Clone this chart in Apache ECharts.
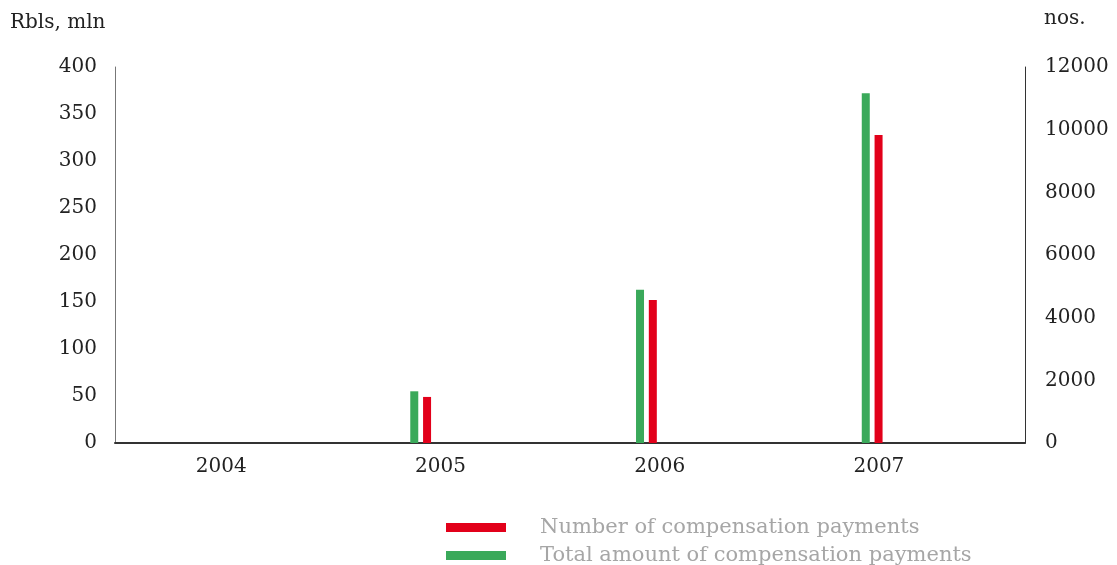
<!DOCTYPE html>
<html>
<head>
<meta charset="utf-8">
<script src="https://cdn.jsdelivr.net/npm/echarts@6/dist/echarts.min.js"></script>
<style>
  html, body { margin: 0; padding: 0; background: #fff; }
  #chart { width: 1117px; height: 565px; }
</style>
</head>
<body>
<div id="chart"></div>
<script>
// years on the x axis
var years = [2004, 2005, 2006, 2007];
// total amount of compensation payments, Rbls mln (left axis)
var totalAmount = [null, 55, 163, 372];
// number of compensation payments, nos. (right axis)
var paymentsCount = [null, 1470, 4560, 9830];

var leftTicks = { min: 0, max: 400, interval: 50 };
var rightTicks = { min: 0, max: 12000, interval: 2000 };

var serif = '"DejaVu Serif", "Liberation Serif", serif';
var nameA = 'Number of compensation payments';
var nameB = 'Total amount of compensation payments';

function pairs(vals) {
    return years.map(function (y, i) { return [y, vals[i]]; });
}

function legendRow(name, top) {
    return {
        orient: 'vertical',
        left: 446,
        top: top,
        padding: 0,
        itemWidth: 60,
        itemHeight: 9,
        icon: 'rect',
        data: [name],
        textStyle: { color: '#a6a6a6', fontSize: 21, fontFamily: serif, padding: [0, 0, 0, 29] }
    };
}

var chart = echarts.init(document.getElementById('chart'));
chart.setOption({
    animation: false,
    grid: { left: 115, right: 92, top: 67, bottom: 122 },
    graphic: [
        { type: 'text', left: 10, top: 13, style: { text: 'Rbls, mln', font: '20px ' + serif, fill: '#222' } },
        { type: 'text', left: 1044, top: 9, style: { text: 'nos.', font: '20px ' + serif, fill: '#222' } }
    ],
    legend: [legendRow(nameA, 517), legendRow(nameB, 545)],
    xAxis: [{
        // axis the bars sit on
        type: 'value',
        min: 2003.646,
        max: 2007.677,
        splitLine: { show: false },
        axisTick: { show: false },
        axisLabel: { show: false },
        axisLine: { lineStyle: { color: '#333', width: 2 } }
    }, {
        // axis carrying the year labels
        type: 'value',
        position: 'bottom',
        min: 2003.5155,
        max: 2007.6665,
        splitLine: { show: false },
        axisTick: { show: false },
        axisLine: { show: false },
        axisLabel: {
            customValues: years,
            margin: 14,
            color: '#222',
            fontSize: 20,
            fontFamily: serif,
            formatter: function (v) { return String(v); }
        }
    }],
    yAxis: [{
        type: 'value',
        min: leftTicks.min,
        max: leftTicks.max,
        interval: leftTicks.interval,
        splitLine: { show: false },
        axisTick: { show: false },
        axisLine: { show: true, lineStyle: { color: '#777', width: 1 } },
        axisLabel: { margin: 18, color: '#222', fontSize: 20, fontFamily: serif }
    }, {
        type: 'value',
        position: 'right',
        min: rightTicks.min,
        max: rightTicks.max,
        interval: rightTicks.interval,
        splitLine: { show: false },
        axisTick: { show: false },
        axisLine: { show: true, lineStyle: { color: '#333', width: 1 } },
        axisLabel: {
            margin: 20, color: '#222', fontSize: 20, fontFamily: serif,
            formatter: function (v) { return String(v); }
        }
    }],
    series: [{
        name: nameB,
        type: 'bar',
        xAxisIndex: 0,
        yAxisIndex: 0,
        barWidth: 8,
        barGap: '60%',
        itemStyle: { color: '#3aa95a' },
        data: pairs(totalAmount)
    }, {
        name: nameA,
        type: 'bar',
        xAxisIndex: 0,
        yAxisIndex: 1,
        barWidth: 8,
        barGap: '60%',
        itemStyle: { color: '#e2001a' },
        data: pairs(paymentsCount)
    }]
});
</script>
</body>
</html>
